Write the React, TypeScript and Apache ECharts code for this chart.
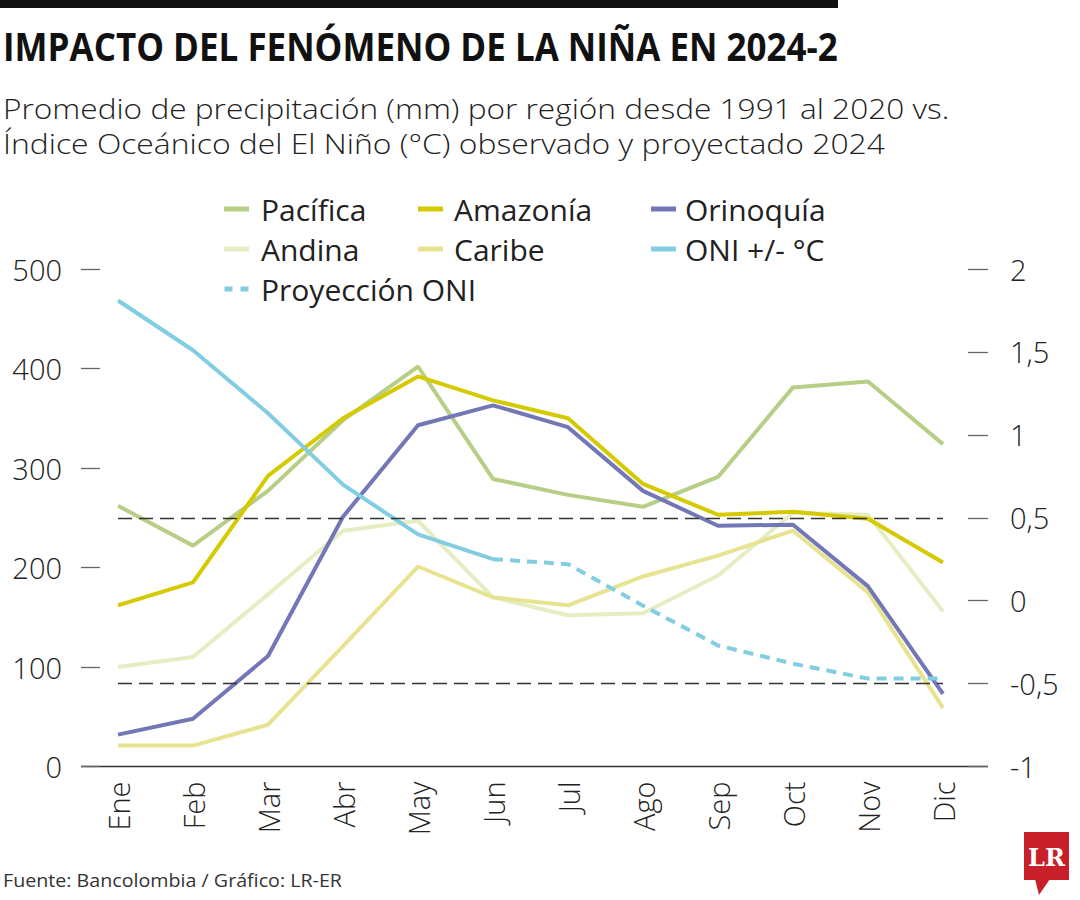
import React, { useEffect, useRef } from 'react';
import * as echarts from 'echarts';

const months = ['Ene', 'Feb', 'Mar', 'Abr', 'May', 'Jun', 'Jul', 'Ago', 'Sep', 'Oct', 'Nov', 'Dic'];
const pacifica = [262, 222, 277, 348, 402, 289, 273, 261, 291, 381, 387, 324];
const amazonia = [162, 185, 292, 350, 392, 368, 350, 284, 253, 256, 249, 205];
const orinoquia = [32, 48, 111, 251, 343, 363, 341, 277, 242, 243, 181, 73];
const andina = [100, 110, 173, 237, 247, 170, 152, 154, 192, 255, 253, 156];
const caribe = [21, 21, 42, 121, 201, 170, 162, 191, 212, 237, 175, 59];
const oni = [1.81, 1.51, 1.13, 0.7, 0.4, 0.25, null, null, null, null, null, null];
const oniProjection = [null, null, null, null, null, 0.25, 0.22, -0.03, -0.27, -0.38, -0.47, -0.47];
const oniThresholds = [0.5, -0.5];

const TITLE = 'IMPACTO DEL FENÓMENO DE LA NIÑA EN 2024-2';
const SUB1 = 'Promedio de precipitación (mm) por región desde 1991 al 2020 vs.';
const SUB2 = 'Índice Oceánico del El Niño (°C) observado y proyectado 2024';
const FOOT = 'Fuente: Bancolombia / Gráfico: LR-ER';

const FONT = '"Open Sans", "Noto Sans", sans-serif';

function measure(text: string, font: string): number {
  const ctx = document.createElement('canvas').getContext('2d');
  if (!ctx) return 0;
  ctx.font = font;
  return ctx.measureText(text).width;
}

export default function App() {
  const ref = useRef<HTMLDivElement>(null);
  useEffect(() => {
    if (!ref.current) return;
    const chart = echarts.init(ref.current, null, { renderer: 'svg', width: 1080, height: 900 });

    const fit = (text: string, weight: number, size: number, target: number) => {
      const w = measure(text, `${weight} ${size}px "Open Sans"`);
      return w > 0 ? target / w : 1;
    };
    const sTitle = fit(TITLE, 700, 39, 835);
    const sSub1 = fit(SUB1, 300, 28, 947);
    const sSub2 = fit(SUB2, 300, 28, 882);
    const sFoot = fit(FOOT, 400, 19, 339);

    const dashIcon = 'path://M0,0h8v5h-8z M16,0h8v5h-8z';
    const legendText = (padLeft: number) => ({
      fontFamily: FONT,
      fontSize: 30,
      color: '#222',
      lineHeight: 30,
      padding: [0, 0, 0, padLeft],
    });
    const legendBase = {
      orient: 'vertical',
      top: 189,
      itemGap: 10,
      itemWidth: 25,
      itemHeight: 5,
      selectedMode: false,
    };

    const colors = {
      pacifica: '#b6ce86',
      amazonia: '#d5ca00',
      orinoquia: '#7377b6',
      andina: '#e5eec2',
      caribe: '#e8e390',
      oni: '#82cde2',
    };

    const line = (name: string, data: (number | null)[], color: string, yAxisIndex = 0, extra: any = {}) => ({
      name,
      type: 'line',
      data,
      yAxisIndex,
      symbol: 'none',
      showSymbol: false,
      connectNulls: false,
      color,
      lineStyle: { color, width: 4, ...(extra.lineStyle || {}) },
      z: extra.z || 2,
      ...(extra.markLine ? { markLine: extra.markLine } : {}),
    });

    const option: any = {
      animation: false,
      backgroundColor: '#fff',
      textStyle: { fontFamily: FONT },
      grid: { left: 118, right: 137, top: 269, bottom: 133.5, containLabel: false },
      legend: [
        { ...legendBase, left: 219, textStyle: legendText(7), data: [{ name: 'Pacífica', icon: 'rect' }, { name: 'Andina', icon: 'rect' }, { name: 'Proyección ONI', icon: dashIcon }] },
        { ...legendBase, left: 413, textStyle: legendText(6), data: [{ name: 'Amazonía', icon: 'rect' }, { name: 'Caribe', icon: 'rect' }] },
        { ...legendBase, left: 646, textStyle: legendText(4), data: [{ name: 'Orinoquía', icon: 'rect' }, { name: 'ONI +/- °C', icon: 'rect' }] },
      ],
      xAxis: {
        type: 'category',
        data: months,
        boundaryGap: false,
        axisLine: { show: false },
        axisTick: { show: false },
        axisLabel: {
          rotate: 90,
          margin: 15,
          fontFamily: FONT,
          fontSize: 29,
          fontWeight: 300,
          color: '#222',
        },
        splitLine: { show: false },
      },
      yAxis: [
        {
          type: 'value',
          min: 0,
          max: 500,
          interval: 100,
          offset: 37,
          axisLine: { show: false },
          axisTick: { show: true, inside: true, length: 19, lineStyle: { color: '#666', width: 1.3 } },
          axisLabel: { margin: 19, fontFamily: FONT, fontSize: 29, fontWeight: 300, color: '#222' },
          splitLine: { show: false },
        },
        {
          type: 'value',
          min: -1,
          max: 2,
          interval: 0.5,
          offset: 45,
          position: 'right',
          axisLine: { show: false },
          axisTick: { show: true, inside: true, length: 20, lineStyle: { color: '#666', width: 1.3 } },
          axisLabel: {
            margin: 22,
            fontFamily: FONT,
            fontSize: 29,
            fontWeight: 300,
            color: '#222',
            formatter: (v: number) => String(v).replace('.', ','),
          },
          splitLine: { show: false },
        },
      ],
      series: [
        line('Andina', andina, colors.andina),
        line('Caribe', caribe, colors.caribe),
        line('Pacífica', pacifica, colors.pacifica),
        line('Orinoquía', orinoquia, colors.orinoquia),
        line('Amazonía', amazonia, colors.amazonia),
        line('ONI +/- °C', oni, colors.oni, 1, {
          z: 3,
          markLine: {
            silent: true,
            symbol: 'none',
            label: { show: false },
            lineStyle: { color: '#333', width: 1.3, type: [14, 7] },
            data: oniThresholds.map((t) => [
              { coord: [months[0], t] },
              { coord: [months[months.length - 1], t] },
            ]),
          },
        }),
        line('Proyección ONI', oniProjection, colors.oni, 1, { z: 3, lineStyle: { type: [10, 7] } }),
      ],
      graphic: [
        { type: 'rect', shape: { x: 0, y: 0, width: 838, height: 8 }, style: { fill: '#111' } },
        {
          type: 'text', x: 3, y: 46, scaleX: sTitle,
          style: { text: TITLE, fontFamily: FONT, fontSize: 39, fontWeight: 700, fill: '#111', align: 'left', verticalAlign: 'middle' },
        },
        {
          type: 'text', x: 3, y: 108, scaleX: sSub1,
          style: { text: SUB1, fontFamily: FONT, fontSize: 28, fontWeight: 300, fill: '#222', align: 'left', verticalAlign: 'middle' },
        },
        {
          type: 'text', x: 3, y: 143, scaleX: sSub2,
          style: { text: SUB2, fontFamily: FONT, fontSize: 28, fontWeight: 300, fill: '#222', align: 'left', verticalAlign: 'middle' },
        },
        { type: 'line', shape: { x1: 81, y1: 766.5, x2: 988, y2: 766.5 }, style: { stroke: '#333', lineWidth: 1.4 } },
        {
          type: 'text', x: 3, y: 880, scaleX: sFoot,
          style: { text: FOOT, fontFamily: FONT, fontSize: 19, fill: '#333', align: 'left', verticalAlign: 'middle' },
        },
        { type: 'rect', shape: { x: 1024, y: 832, width: 45, height: 48 }, style: { fill: '#c8202b' } },
        { type: 'polygon', shape: { points: [[1035, 879], [1050, 879], [1039, 895]] }, style: { fill: '#c8202b' } },
        {
          type: 'text', x: 1046.5, y: 857,
          style: { text: 'LR', fontFamily: '"DejaVu Serif", "Liberation Serif", serif', fontSize: 24, fontWeight: 700, fill: '#fff', align: 'center', verticalAlign: 'middle' },
        },
      ],
    };

    chart.setOption(option);
    return () => chart.dispose();
  }, []);

  return (
    <div
      ref={ref}
      style={{ position: 'absolute', left: 0, top: 0, width: 1080, height: 900, background: '#fff' }}
    />
  );
}
